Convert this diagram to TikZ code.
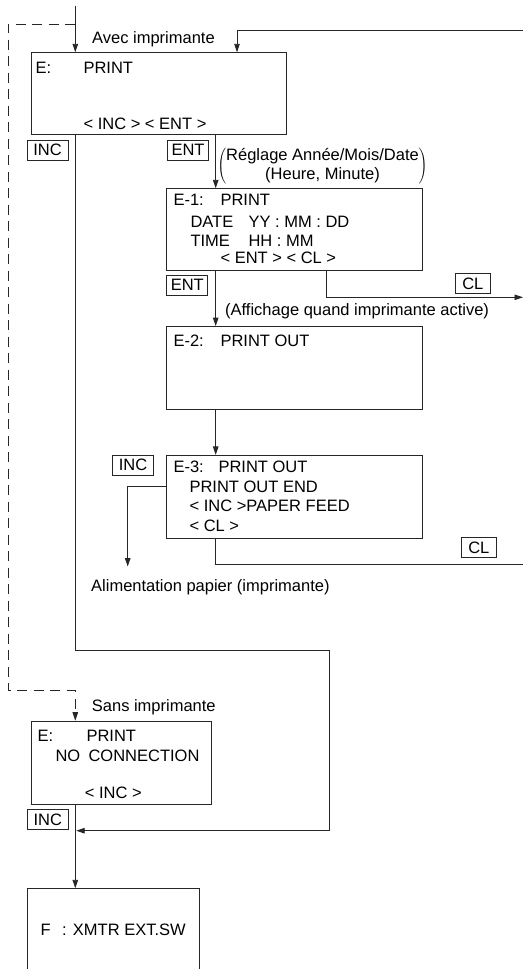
\documentclass[tikz,border=0pt]{standalone}
\usepackage{fontspec}
\setmainfont{Liberation Sans}
\usetikzlibrary{arrows.meta,positioning,calc}
\newcommand{\lcd}[4]{\parbox[t][#2][t]{#1}{\rule{0pt}{#3}#4}}

\begin{document}
\begin{tikzpicture}[
    x=1pt, y=-1pt,
    every node/.style={font=\fontsize{16.5}{19.5}\selectfont, text=black},
    screen/.style={rectangle, draw=black!85, line width=1.1pt, inner ysep=0pt, anchor=north west},
    key/.style={rectangle, draw=black!85, line width=0.9pt, inner xsep=3pt, inner ysep=0pt, minimum width=41pt, minimum height=20pt},
    note/.style={anchor=base west, inner sep=0pt},
    link/.style={draw=black!85, line width=0.9pt},
    arrow/.style={link, -{Triangle[length=8.5pt, width=5.5pt]}},
    dashlink/.style={arrow, dash pattern=on 10pt off 6.5pt}
]
\useasboundingbox (0,0) rectangle (523,969);
\clip (0,0) rectangle (523,969);

\node[screen, inner xsep=4.3pt] (e) at (30.7,52.3) {\lcd{246.4pt}{82pt}{20.4pt}{\makebox[48pt][l]{E:}PRINT\par\vfill\hspace*{48pt}< INC > < ENT >\rule[-5pt]{0pt}{5pt}}};
\node[screen, inner xsep=7.3pt] (e1) at (165.7,188.3) {\lcd{241.4pt}{81.7pt}{16.7pt}{\makebox[47pt][l]{E-1:}PRINT\\[2pt]
    \hspace*{17pt}\makebox[58pt][l]{DATE}YY : MM : DD\\[-0.5pt]
    \hspace*{17pt}\makebox[58pt][l]{TIME}HH : MM\\[-2.5pt]
    \hspace*{47pt}< ENT > < CL >}};
\node[screen, inner xsep=7.3pt, below=55pt of e1] (e2) {\lcd{241.4pt}{82.7pt}{20pt}{\makebox[47pt][l]{E-2:}PRINT OUT}};
\node[screen, inner xsep=7.3pt, below=45pt of e2] (e3) {\lcd{241.4pt}{83pt}{17.3pt}{\makebox[45pt][l]{E-3:}PRINT OUT\\
    \hspace*{16pt}PRINT OUT END\\
    \hspace*{16pt}< INC >PAPER FEED\\
    \hspace*{16pt}< CL >}};
\node[screen, inner xsep=6.3pt] (sans) at (30.7,720.7) {\lcd{167.4pt}{83.3pt}{20.3pt}{\makebox[49pt][l]{E:}PRINT\\
    \hspace*{18pt}\makebox[33pt][l]{NO}CONNECTION\par\vfill
    \hspace*{47.3pt}< INC >\rule[-6.3pt]{0pt}{6.3pt}}};
\node[screen, inner xsep=12.7pt] (f) at (27.3,888.3) {\lcd{146.3pt}{96pt}{46.7pt}{\makebox[21.7pt][l]{F}: XMTR EXT.SW}};

\node[key] (inca) at (47.5,150.3) {INC};
\node[key] (enta) at (188,150.3) {ENT};
\node[key] (entb) at (187.3,285.3) {ENT};
\node[key, minimum width=35pt] (cla) at (472.8,283.8) {CL};
\node[key] (incb) at (133,465.3) {INC};
\node[key, minimum width=35pt] (clb) at (478.8,547.5) {CL};
\node[key] (incc) at (47.8,819.5) {INC};

\node[note] (avec) at (92,43) {Avec imprimante};
\node (regl) at (322.5,166) {$\left(\mbox{\begin{tabular}{@{}c@{}}Réglage Année/Mois/Date\\(Heure, Minute)\end{tabular}}\right)$};
\node[note] (aff) at (225,315) {(Affichage quand imprimante active)};
\node[note] (alim) at (91,591.7) {Alimentation papier (imprimante)};
\node[note] (sansl) at (91.7,711) {Sans imprimante};

\coordinate (top) at (75.3,6);
\coordinate (fork) at (75.3,24);
\coordinate (back) at (523,30);
\coordinate (mid) at (215.7,0);
\coordinate (clout) at (523,297.3);
\coordinate (clend) at (523,564);
\coordinate (join) at (76.2,830.7);

\draw[arrow] (top) -- (top |- e.north);
\draw[dashlink] (fork) -| (8.3,690.7) -| (top |- sans.north);
\draw[arrow] (back) -| ($(e.north west)+(206.3,0)$);
\draw[arrow] (e.south -| top) |- (329.3,650.7) |- (join);
\draw[arrow] (e.south -| mid) -- (e1.north -| mid);
\draw[arrow] (e1.south -| mid) -- (e2.north -| mid);
\draw[arrow] (e2.south -| mid) -- (e3.north -| mid);
\draw[arrow] ($(e1.south west)+(161,0)$) |- (clout);
\draw[arrow, shorten >=13pt] ($(e3.north west)+(0,31.6)$) -| ($(alim.north west)+(36.7,0)$);
\draw[link] (e3.south -| mid) |- (clend);
\draw[arrow] (sans.south -| top) -- (f.north -| top);
\end{tikzpicture}
\end{document}
